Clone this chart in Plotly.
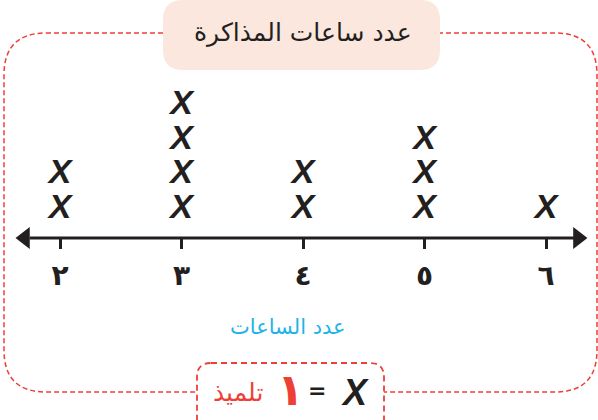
import plotly.graph_objects as go

# line plot: how many students studied each number of hours
hours = [2, 3, 4, 5, 6]
students = [2, 4, 2, 3, 1]
hour_labels = ["٢", "٣", "٤", "٥", "٦"]
title_text = "عدد ساعات المذاكرة"
axis_text = "عدد الساعات"
key_unit = "تلميذ"
key_value = "١"

W, H = 598, 420
INK = "#231f20"
RED = "#ee3f37"
CYAN = "#1db4e8"
PINK = "#fce7de"
FONT = "DejaVu Sans"


def px(x, y):
    # pixel -> paper coords
    return f"{x / W:.5f},{1 - y / H:.5f}"


def rounded(x0, y0, x1, y1, r):
    return (f"M{px(x0 + r, y0)} L{px(x1 - r, y0)} Q{px(x1, y0)} {px(x1, y0 + r)} "
            f"L{px(x1, y1 - r)} Q{px(x1, y1)} {px(x1 - r, y1)} L{px(x0 + r, y1)} "
            f"Q{px(x0, y1)} {px(x0, y1 - r)} L{px(x0, y0 + r)} Q{px(x0, y0)} {px(x0 + r, y0)} Z")


def label(text, x, y, **font):
    return dict(text=text, x=x / W, y=1 - y / H, xref="paper", yref="paper",
                xanchor="center", yanchor="middle", showarrow=False, font=font)


# one X per student, stacked above its hour
xs, ys = [], []
for h, n in zip(hours, students):
    for k in range(1, n + 1):
        xs.append(h)
        ys.append(k - 0.16)

fig = go.Figure()
fig.add_trace(go.Scatter(
    x=xs, y=ys, mode="text", text=["X"] * len(xs), cliponaxis=False,
    textfont=dict(family="Liberation Sans", size=34, color=INK, weight="bold", style="italic"),
    hoverinfo="skip"))
# arrow heads of the number line
fig.add_trace(go.Scatter(
    x=[1.712, 6.263], y=[0, 0], mode="markers", cliponaxis=False,
    marker=dict(symbol=["triangle-left", "triangle-right"], size=19, color=INK),
    hoverinfo="skip"))

shapes = [
    dict(type="path", xref="paper", yref="paper", path=rounded(4, 33, 597, 392, 42),
         line=dict(color=RED, width=1.5, dash="5px,3px"), fillcolor="rgba(0,0,0,0)"),
    dict(type="path", xref="paper", yref="paper", path=rounded(163, 0, 440, 70, 20),
         line=dict(width=0), fillcolor=PINK),
    dict(type="path", xref="paper", yref="paper", path=rounded(197, 363, 384, 440, 14),
         line=dict(color=RED, width=1.8, dash="6px,4px"), fillcolor="white"),
    dict(type="line", xref="x", yref="y", x0=1.75, x1=6.24, y0=0, y1=0,
         line=dict(color=INK, width=3)),
]

annotations = [
    label(title_text, 303, 33, family=FONT, size=25, color=INK),
    label(axis_text, 288, 327, family=FONT, size=21, color=CYAN),
    label("X", 355, 392, family="Liberation Sans", size=36, color=INK, weight="bold", style="italic"),
    label("=", 317, 390, family=FONT, size=22, color=INK, weight="bold"),
    label(key_unit, 238, 392, family=FONT, size=25, color=RED),
    label(key_value, 290, 389, family=FONT, size=44, color=RED, weight="bold"),
]

fig.update_layout(
    width=W, height=H, margin=dict(l=0, r=0, t=0, b=0),
    paper_bgcolor="white", plot_bgcolor="rgba(0,0,0,0)", showlegend=False,
    shapes=shapes, annotations=annotations,
    xaxis=dict(range=[2 - 60 / 121.5, 6 + 52 / 121.5], anchor="free", position=182 / H,
               tickmode="array", tickvals=hours, ticktext=hour_labels,
               ticks="outside", ticklen=10, tickwidth=3, tickcolor=INK, ticklabelstandoff=2,
               tickfont=dict(family=FONT, size=28, color=INK, weight="bold"),
               showline=False, showgrid=False, zeroline=False, fixedrange=True),
    yaxis=dict(range=[-182 / 34.5, 238 / 34.5], visible=False, fixedrange=True),
)

# the page's default body margin would shift the figure by 8px
fig.write_html("out.html", config={"displayModeBar": False},
               post_script="document.body.style.margin='0';")
